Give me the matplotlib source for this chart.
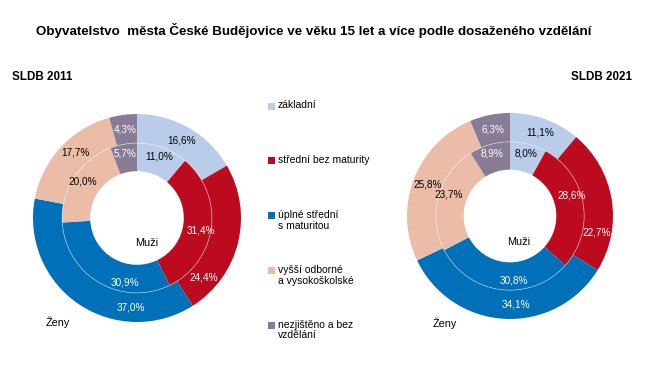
import matplotlib
matplotlib.use('Agg')
import matplotlib.pyplot as plt
from matplotlib.patches import Rectangle, Circle
import numpy as np

plt.rcParams['font.family'] = ['Liberation Sans', 'DejaVu Sans']

categories = ['základní', 'střední bez maturity', 'úplné střední\ns maturitou',
              'vyšší odborné\na vysokoškolské', 'nezjištěno a bez\nvzdělání']
colors = ['#B9CDEA', '#BC0A1E', '#0070B9', '#EBBDA9', '#877C94']
label_colors = ['black', 'white', 'white', 'black', 'white']

# ženy = outer ring, muži = inner ring
zeny_2011 = [16.6, 24.4, 37.0, 17.7, 4.3]
muzi_2011 = [11.0, 31.4, 30.9, 20.0, 5.7]
zeny_2021 = [11.1, 22.7, 34.1, 25.8, 6.3]
muzi_2021 = [8.0, 28.6, 30.8, 23.7, 8.9]

# label nudges (degrees) like the hand-moved labels of the original
nudge_out_2011 = [0, -28, 30, -4, 0]
nudge_in_2011 = [0, -4, 20, -1, 0]
nudge_out_2021 = [0, -20, 7, 0, 0]
nudge_in_2021 = [0, 9, 11, -4, 0]

W, H = 652, 391
fig = plt.figure(figsize=(W / 100, H / 100), dpi=100)
fig.patch.set_facecolor('white')


def fmt(v):
    return f'{v:.1f}'.replace('.', ',') + '%'


def donut(cx, cy, r, outer, inner, n_out, n_in, muzi_pos, zeny_pos):
    ax = fig.add_axes([(cx - r) / W, (H - cy - r) / H, 2 * r / W, 2 * r / H])

    w_out = 0.28
    w_in = 0.27
    r_in = 1 - w_out
    wo, _ = ax.pie(outer, radius=1, colors=colors, startangle=90, counterclock=False,
                   wedgeprops=dict(width=w_out, edgecolor='none'))
    wi, _ = ax.pie(inner, radius=r_in, colors=colors, startangle=90, counterclock=False,
                   wedgeprops=dict(width=w_in, edgecolor='none'))
    ax.add_patch(Circle((0, 0), r_in, fill=False, edgecolor='white', lw=0.6, alpha=0.45))
    ax.set_xlim(-1, 1)
    ax.set_ylim(-1, 1)
    ax.set_aspect('equal')
    ax.axis('off')

    for wedges, vals, nudge, rr in [(wo, outer, n_out, 0.86), (wi, inner, n_in, 0.63)]:
        for w, v, tc, d in zip(wedges, vals, label_colors, nudge):
            a = np.deg2rad((w.theta1 + w.theta2) / 2 + d)
            ax.text(rr * np.cos(a), rr * np.sin(a), fmt(v), ha='center', va='center',
                    fontsize=7.2, color=tc)

    ax.text(muzi_pos[0], muzi_pos[1], 'Muži', ha='center', va='center', fontsize=7.8)
    ax.text(zeny_pos[0], zeny_pos[1], 'Ženy', ha='center', va='center', fontsize=7.8,
            clip_on=False)
    return ax


donut(137, 218, 104, zeny_2011, muzi_2011, nudge_out_2011, nudge_in_2011,
      (0.09, -0.24), (-0.76, -1.0))
donut(510, 216, 103, zeny_2021, muzi_2021, nudge_out_2021, nudge_in_2021,
      (0.08, -0.25), (-0.63, -1.04))

fig.text(314 / W, 1 - 31 / H, 'Obyvatelstvo  města České Budějovice ve věku 15 let a více podle dosaženého vzdělání',
         ha='center', va='center', fontsize=9.6, fontweight='bold')
fig.text(12 / W, 1 - 77 / H, 'SLDB 2011', ha='left', va='center', fontsize=8.4, fontweight='bold')
fig.text(632 / W, 1 - 77 / H, 'SLDB 2021', ha='right', va='center', fontsize=8.4, fontweight='bold')

# legend
for i, (lab, c) in enumerate(zip(categories, colors)):
    y = 106 + i * 54.8
    fig.patches.append(Rectangle((268 / W, 1 - (y + 3.5) / H), 7 / W, 7 / H,
                                 transform=fig.transFigure, facecolor=c, edgecolor='none'))
    fig.text(278 / W, 1 - (y - 5.5) / H, lab, ha='left', va='top', fontsize=7.5,
             linespacing=1.1)

fig.savefig('out.png', dpi=100, facecolor='white')
